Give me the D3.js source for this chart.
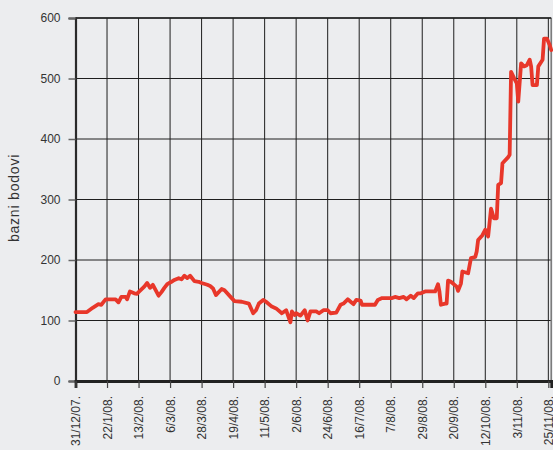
<!DOCTYPE html>
<html>
<head>
<meta charset="utf-8">
<script src="https://cdn.jsdelivr.net/npm/d3@7"></script>
<style>
html,body{margin:0;padding:0;background:#ecedef;}
svg{display:block;}
text{font-family:"Liberation Sans",Arial,sans-serif;fill:#333;}
</style>
</head>
<body>
<svg id="chart" width="553" height="450"></svg>
<script>
const dates = ["2007-12-31","2008-01-08","2008-01-12","2008-01-16","2008-01-18","2008-01-21","2008-01-28","2008-01-30",
"2008-02-01","2008-02-04","2008-02-05","2008-02-07","2008-02-10","2008-02-12","2008-02-13","2008-02-17","2008-02-19",
"2008-02-21","2008-02-23","2008-02-27","2008-02-29","2008-03-02","2008-03-04","2008-03-07","2008-03-09","2008-03-12","2008-03-14","2008-03-16",
"2008-03-18","2008-03-20","2008-03-23","2008-03-26","2008-03-28","2008-04-01","2008-04-03","2008-04-05","2008-04-07",
"2008-04-11","2008-04-13","2008-04-18","2008-04-20","2008-04-25","2008-04-30","2008-05-03","2008-05-05","2008-05-07",
"2008-05-10","2008-05-12","2008-05-16","2008-05-19","2008-05-23","2008-05-26","2008-05-29","2008-05-30","2008-06-01",
"2008-06-02","2008-06-05","2008-06-08","2008-06-10","2008-06-12","2008-06-16","2008-06-18","2008-06-21","2008-06-24",
"2008-06-26","2008-06-30","2008-07-03","2008-07-05","2008-07-08","2008-07-10","2008-07-12","2008-07-14","2008-07-17",
"2008-07-18","2008-07-27","2008-07-29","2008-08-01","2008-08-08","2008-08-10","2008-08-13","2008-08-16","2008-08-18",
"2008-08-21","2008-08-23","2008-08-26","2008-08-28","2008-08-31","2008-09-07","2008-09-09","2008-09-10","2008-09-11",
"2008-09-14","2008-09-15","2008-09-16","2008-09-18","2008-09-22","2008-09-23","2008-09-25","2008-09-26","2008-09-30",
"2008-10-02","2008-10-05","2008-10-06","2008-10-07","2008-10-10","2008-10-12","2008-10-14","2008-10-16","2008-10-18",
"2008-10-20","2008-10-21","2008-10-23","2008-10-24","2008-10-28","2008-10-29","2008-10-30","2008-11-01","2008-11-03",
"2008-11-04","2008-11-06","2008-11-08","2008-11-10","2008-11-12","2008-11-13","2008-11-14","2008-11-17","2008-11-18",
"2008-11-21","2008-11-22","2008-11-24","2008-11-26","2008-11-27"];
const values = [114,114,121,127,126,135,135,130,
139,139,135,148,145,144,147,156,162,
154,159,141,147,154,160,164,167,170,168,174,
170,174,165,164,162,159,157,153,142,
152,150,137,132,131,128,112,117,128,
134,131,123,120,112,117,97,115,109,
112,108,117,100,115,115,112,117,117,
112,113,126,128,135,131,127,134,133,
126,126,134,137,137,139,137,139,135,
141,137,145,145,148,148,160,148,126,
128,128,166,164,156,149,161,181,178,
203,205,214,233,241,250,239,285,269,
269,324,327,360,370,374,511,501,492,
462,525,520,522,531,520,489,489,520,
531,566,566,555,547];
const tickLabels = ["31/12/07.","22/1/08.","13/2/08.","6/3/08.","28/3/08.","19/4/08.","11/5/08.","2/6/08.",
"24/6/08.","16/7/08.","7/8/08.","29/8/08.","20/9/08.","12/10/08.","3/11/08.","25/11/08."];
const yTicks = [0,100,200,300,400,500,600];
const yTitle = "bazni bodovi";

const parse = d3.utcParse("%Y-%m-%d");
const parseTick = d3.utcParse("%d/%m/%y.");
const data = dates.map((d,i)=>({date:parse(d), value:values[i]}));
const tickDates = tickLabels.map(t=>parseTick(t));

const L=75.5, R=551.2, T=18, B=381;
const x = d3.scaleUtc().domain([parse("2007-12-31"), parse("2008-11-27")]).range([L,R]);
const y = d3.scaleLinear().domain([0,600]).range([B,T]);

const svg = d3.select("#chart");
svg.append("rect").attr("width",553).attr("height",450).attr("fill","#ecedef");

// grid
svg.append("g").selectAll("line").data(yTicks.slice(1)).join("line")
  .attr("x1",L).attr("x2",R).attr("y1",d=>y(d)).attr("y2",d=>y(d))
  .attr("stroke","#1e1e1e").attr("stroke-width",1);
svg.append("g").selectAll("line").data(tickDates.slice(1)).join("line")
  .attr("x1",d=>x(d)).attr("x2",d=>x(d)).attr("y1",T).attr("y2",B)
  .attr("stroke","#1e1e1e").attr("stroke-width",1);
// right border
svg.append("line").attr("x1",R).attr("x2",R).attr("y1",T).attr("y2",B)
  .attr("stroke","#777").attr("stroke-width",1.5);
// top border
svg.append("line").attr("x1",L).attr("x2",R).attr("y1",T).attr("y2",T)
  .attr("stroke","#222").attr("stroke-width",1.5);

// y axis
const yAxis = d3.axisLeft(y).tickValues(yTicks).tickSize(7).tickPadding(8).tickFormat(d3.format("d"));
const gy = svg.append("g").attr("transform",`translate(${L},0)`).call(yAxis);
gy.select(".domain").attr("stroke","#2a2a2a").attr("stroke-width",2.2);
gy.selectAll(".tick line").attr("stroke","#666").attr("stroke-width",1.5);
gy.selectAll(".tick text").attr("font-size",12).attr("fill","#333").style("font-family","'Liberation Sans',Arial,sans-serif");

// x axis
const xAxis = d3.axisBottom(x).tickValues(tickDates).tickSize(7).tickFormat((d,i)=>tickLabels[i]);
const gx = svg.append("g").attr("transform",`translate(0,${B})`).call(xAxis);
gx.select(".domain").attr("stroke","#222").attr("stroke-width",2.8);
gx.selectAll(".tick line").attr("stroke","#444").attr("stroke-width",1.2);
gx.selectAll(".tick text").attr("font-size",12).attr("fill","#333")
  .style("font-family","'Liberation Sans',Arial,sans-serif")
  .attr("text-anchor","end").attr("transform","rotate(-90)")
  .attr("x",-15).attr("y",0).attr("dy","0.35em");

// line
const line = d3.line().x(d=>x(d.date)).y(d=>y(d.value));
svg.append("path").datum(data).attr("d",line).attr("fill","none")
  .attr("stroke","#e8372a").attr("stroke-width",3.8).attr("stroke-linejoin","round").attr("stroke-linecap","round");

// y title
svg.append("text").attr("transform","translate(19,198) rotate(-90)")
  .attr("text-anchor","middle").attr("font-size",14).attr("letter-spacing",0.8)
  .attr("fill","#333").text(yTitle);
</script>
</body>
</html>
